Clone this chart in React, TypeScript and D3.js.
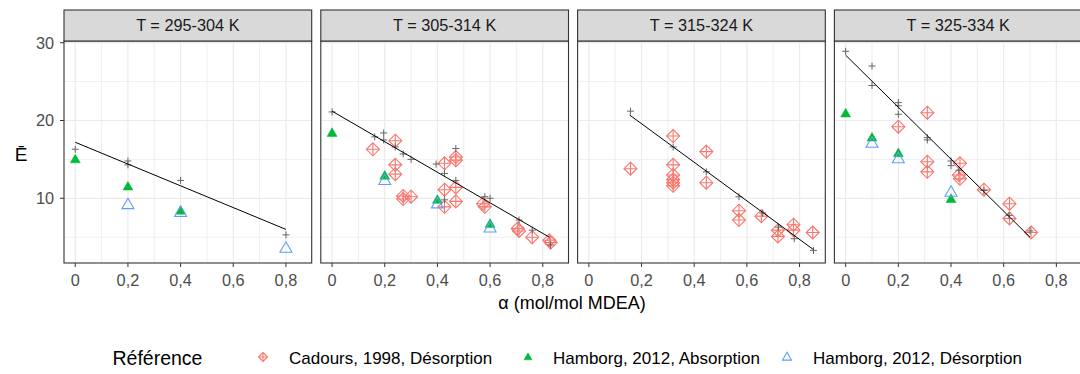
import React from "react";
import * as d3 from "d3";

const panels = ["T = 295-304 K", "T = 305-314 K", "T = 315-324 K", "T = 325-334 K"];
const xTicks = [0, 0.2, 0.4, 0.6, 0.8];
const xTickLabels = ["0", "0,2", "0,4", "0,6", "0,8"];
const xMinor = [0.1, 0.3, 0.5, 0.7];
const yTicks = [10, 20, 30];
const yMinor = [5, 15, 25];
const legendLabels = ["Cadours, 1998, Désorption", "Hamborg, 2012, Absorption", "Hamborg, 2012, Désorption"];

// [panel, alpha, E]
const cadours: [number, number, number][] = [
  [1, 0.155, 16.3], [1, 0.24, 17.4], [1, 0.24, 14.3], [1, 0.24, 13.1], [1, 0.27, 10.3], [1, 0.27, 9.9],
  [1, 0.30, 10.2], [1, 0.427, 14.5], [1, 0.47, 15.3], [1, 0.47, 14.9], [1, 0.427, 11.1], [1, 0.47, 11.4],
  [1, 0.427, 8.9], [1, 0.47, 9.6], [1, 0.573, 9.3], [1, 0.58, 8.9], [1, 0.705, 6.1], [1, 0.71, 5.8],
  [1, 0.76, 5.0], [1, 0.825, 4.6], [1, 0.83, 4.3],
  [2, 0.158, 13.8], [2, 0.32, 18.0], [2, 0.32, 14.3], [2, 0.32, 13.0], [2, 0.32, 12.4], [2, 0.32, 12.0],
  [2, 0.32, 11.6], [2, 0.446, 16.0], [2, 0.446, 12.0], [2, 0.57, 8.4], [2, 0.57, 7.2], [2, 0.655, 7.7],
  [2, 0.718, 5.9], [2, 0.718, 5.1], [2, 0.777, 6.6], [2, 0.777, 5.9], [2, 0.85, 5.6],
  [3, 0.31, 21.0], [3, 0.2, 19.2], [3, 0.31, 14.7], [3, 0.31, 13.4], [3, 0.434, 14.5], [3, 0.43, 13.0],
  [3, 0.434, 12.5], [3, 0.525, 11.1], [3, 0.622, 9.3], [3, 0.622, 7.4], [3, 0.704, 5.6],
];

const hamborgAbs: [number, number, number][] = [
  [0, 0, 15.0], [0, 0.2, 11.5], [0, 0.4, 8.4],
  [1, 0, 18.4], [1, 0.2, 12.9], [1, 0.4, 9.8], [1, 0.6, 6.7],
  [3, 0, 20.9], [3, 0.1, 17.8], [3, 0.2, 15.8], [3, 0.4, 9.9],
];

const hamborgDes: [number, number, number][] = [
  [0, 0.2, 9.2], [0, 0.4, 8.2], [0, 0.8, 3.6],
  [1, 0.2, 12.3], [1, 0.4, 9.3], [1, 0.6, 6.2],
  [3, 0.1, 17.1], [3, 0.2, 15.1], [3, 0.4, 10.8],
];

const predicted: [number, number, number][] = [
  [0, 0, 16.3], [0, 0.2, 14.8], [0, 0.2, 14.3], [0, 0.4, 12.3], [0, 0.8, 5.3],
  [1, 0, 21.1], [1, 0.162, 17.9], [1, 0.196, 18.4], [1, 0.196, 17.5], [1, 0.24, 16.6], [1, 0.27, 15.7],
  [1, 0.30, 15.0], [1, 0.395, 14.4], [1, 0.427, 13.2], [1, 0.427, 9.8], [1, 0.47, 16.4], [1, 0.47, 12.3],
  [1, 0.58, 10.2], [1, 0.6, 10.0], [1, 0.71, 7.2], [1, 0.76, 5.9], [1, 0.83, 4.0],
  [2, 0.158, 21.2], [2, 0.32, 16.6], [2, 0.446, 13.4], [2, 0.57, 10.2], [2, 0.66, 8.1], [2, 0.72, 6.3],
  [2, 0.78, 4.8], [2, 0.853, 3.3],
  [3, 0, 28.9], [3, 0.1, 27.0], [3, 0.1, 24.5], [3, 0.2, 22.3], [3, 0.2, 21.9], [3, 0.2, 20.8],
  [3, 0.31, 17.8], [3, 0.31, 17.5], [3, 0.4, 14.8], [3, 0.4, 14.2], [3, 0.43, 13.6], [3, 0.525, 11.0],
  [3, 0.62, 7.8], [3, 0.7, 5.8],
];

// fitted line endpoints per panel: [panel, alpha, E]
const fitLines: [number, number, number][] = [
  [0, 0, 17.2], [0, 0.8, 6.0],
  [1, 0, 21.2], [1, 0.825, 5.0],
  [2, 0.155, 20.7], [2, 0.853, 3.4],
  [3, 0, 28.4], [3, 0.70, 5.0],
];

const RED = "#F8766D";
const GREEN = "#00BA38";
const BLUE = "#619CFF";
const FONT = "'Liberation Sans', Arial, sans-serif";

const PANEL_LEFT = 64;
const PANEL_W = 247.7;
const PANEL_STEP = 256.8;
const PANEL_TOP = 41;
const PANEL_BOTTOM = 263;
const STRIP_TOP = 10;

function DiamondPlus({ x, y, r, color }: { x: number; y: number; r: number; color: string }) {
  return (
    <g stroke={color} strokeWidth={1.1} fill="none">
      <path d={`M${x},${y - r}L${x + r},${y}L${x},${y + r}L${x - r},${y}Z`} />
      <path d={`M${x - r},${y}L${x + r},${y}M${x},${y - r}L${x},${y + r}`} />
    </g>
  );
}

function Tri({ x, y, s, color, filled }: { x: number; y: number; s: number; color: string; filled: boolean }) {
  const h = s * 0.866;
  const d = `M${x},${y - h * 0.6}L${x + s / 2},${y + h * 0.4}L${x - s / 2},${y + h * 0.4}Z`;
  return <path d={d} fill={filled ? color : "none"} stroke={color} strokeWidth={filled ? 0.5 : 1.1} />;
}

export default function App() {
  const y = d3.scaleLinear().domain([1.68, 30.22]).range([PANEL_BOTTOM, PANEL_TOP]);
  const xBase = d3.scaleLinear().domain([-0.0428, 0.8978]).range([0, PANEL_W]);
  const line = d3.line<[number, number, number]>();

  return (
    <svg width={1080} height={374} style={{ position: "absolute", left: 0, top: 0, background: "#fff" }} fontFamily={FONT}>
      <rect x={0} y={0} width={1080} height={374} fill="#fff" />
      {panels.map((name, pi) => {
        const left = PANEL_LEFT + pi * PANEL_STEP;
        const x = (v: number) => left + xBase(v);
        const sel = (arr: [number, number, number][]) => arr.filter((d) => d[0] === pi);
        const fl = sel(fitLines);
        return (
          <g key={pi}>
            <rect x={left} y={PANEL_TOP} width={PANEL_W} height={PANEL_BOTTOM - PANEL_TOP} fill="#fff" />
            {yMinor.map((v) => (
              <line key={"ym" + v} x1={left} x2={left + PANEL_W} y1={y(v)} y2={y(v)} stroke="#EBEBEB" strokeWidth={0.8} />
            ))}
            {xMinor.map((v) => (
              <line key={"xm" + v} x1={x(v)} x2={x(v)} y1={PANEL_TOP} y2={PANEL_BOTTOM} stroke="#EBEBEB" strokeWidth={0.8} />
            ))}
            {yTicks.map((v) => (
              <line key={"yM" + v} x1={left} x2={left + PANEL_W} y1={y(v)} y2={y(v)} stroke="#EBEBEB" strokeWidth={1.2} />
            ))}
            {xTicks.map((v) => (
              <line key={"xM" + v} x1={x(v)} x2={x(v)} y1={PANEL_TOP} y2={PANEL_BOTTOM} stroke="#EBEBEB" strokeWidth={1.2} />
            ))}
            {/* data */}
            {sel(cadours).map((d, i) => (
              <DiamondPlus key={"c" + i} x={x(d[1])} y={y(d[2])} r={6.5} color={RED} />
            ))}
            {sel(hamborgAbs).map((d, i) => (
              <Tri key={"a" + i} x={x(d[1])} y={y(d[2])} s={10} color={GREEN} filled />
            ))}
            {sel(hamborgDes).map((d, i) => (
              <Tri key={"d" + i} x={x(d[1])} y={y(d[2])} s={12} color={BLUE} filled={false} />
            ))}
            {sel(predicted).map((d, i) => (
              <path
                key={"p" + i}
                d={`M${x(d[1]) - 3.5},${y(d[2])}h7M${x(d[1])},${y(d[2]) - 3.5}v7`}
                stroke="#666"
                strokeWidth={1}
              />
            ))}
            <path d={line.x((d) => x(d[1])).y((d) => y(d[2]))(fl) || ""} stroke="#000" strokeWidth={1} fill="none" />
            <rect x={left} y={PANEL_TOP} width={PANEL_W} height={PANEL_BOTTOM - PANEL_TOP} fill="none" stroke="#333" strokeWidth={1.1} />
            {/* strip */}
            <rect x={left} y={STRIP_TOP} width={PANEL_W} height={PANEL_TOP - STRIP_TOP} fill="#D9D9D9" stroke="#333" strokeWidth={1.1} />
            <text x={left + PANEL_W / 2} y={(STRIP_TOP + PANEL_TOP) / 2} dy="0.36em" textAnchor="middle" fontSize={16.3} fill="#1A1A1A">
              {name}
            </text>
            {/* x ticks */}
            {xTicks.map((v, i) => (
              <g key={"xt" + v}>
                <line x1={x(v)} x2={x(v)} y1={PANEL_BOTTOM} y2={PANEL_BOTTOM + 4} stroke="#333" strokeWidth={1} />
                <text x={x(v)} y={PANEL_BOTTOM + 17} dy="0.36em" textAnchor="middle" fontSize={16.3} fill="#4D4D4D">
                  {xTickLabels[i]}
                </text>
              </g>
            ))}
          </g>
        );
      })}
      {/* y axis */}
      {yTicks.map((v) => (
        <g key={"yt" + v}>
          <line x1={PANEL_LEFT - 4} x2={PANEL_LEFT} y1={y(v)} y2={y(v)} stroke="#333" strokeWidth={1} />
          <text x={PANEL_LEFT - 10} y={y(v)} dy="0.36em" textAnchor="end" fontSize={16.3} fill="#4D4D4D">
            {v}
          </text>
        </g>
      ))}
      <text x={21} y={154} dy="0.36em" textAnchor="middle" fontSize={19} fill="#000">
        Ē
      </text>
      <text x={572} y={303} dy="0.36em" textAnchor="middle" fontSize={18} fill="#000">
        α (mol/mol MDEA)
      </text>
      {/* legend */}
      <text x={112.5} y={358} dy="0.36em" fontSize={19.5} fill="#000">
        Référence
      </text>
      <DiamondPlus x={263} y={357} r={4.5} color={RED} />
      <text x={289} y={358} dy="0.36em" fontSize={17} fill="#000">
        {legendLabels[0]}
      </text>
      <Tri x={528} y={357} s={8} color={GREEN} filled />
      <text x={553} y={358} dy="0.36em" fontSize={17} fill="#000">
        {legendLabels[1]}
      </text>
      <Tri x={787} y={357} s={9} color={BLUE} filled={false} />
      <text x={813} y={358} dy="0.36em" fontSize={17} fill="#000">
        {legendLabels[2]}
      </text>
    </svg>
  );
}
